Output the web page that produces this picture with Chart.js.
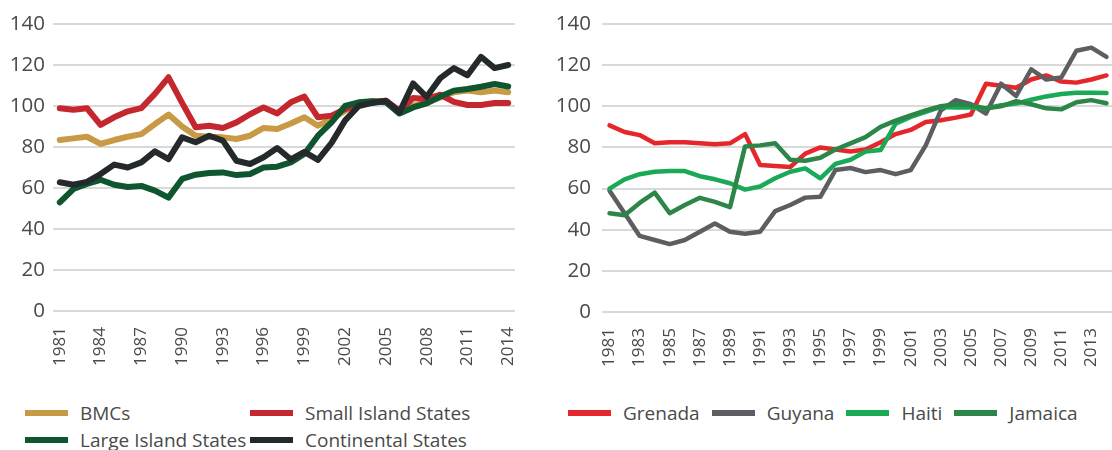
<!DOCTYPE html>
<html>
<head>
<meta charset="utf-8">
<title>Real effective exchange rates</title>
<script src="https://cdn.jsdelivr.net/npm/chart.js@4.4.0/dist/chart.umd.min.js"></script>
<style>
html, body { margin: 0; padding: 0; background: #fff; }
body { position: relative; width: 1112px; height: 450px; overflow: hidden; font-family: 'Open Sans', sans-serif; }
canvas { position: absolute; top: 0; display: block; }
#chartLeft { left: 0; }
#chartRight { left: 556px; }
.legend { position: absolute; color: #4a4a4a; font-size: 19px; }
#legendLeft { left: 25px; top: 399px; display: grid; grid-template-columns: 225px auto; grid-auto-rows: 27px; }
#legendRight { left: 568px; top: 399px; display: flex; gap: 12px; height: 27px; }
.item { display: flex; align-items: center; white-space: nowrap; }
.swatch { width: 43px; height: 6px; margin-right: 12px; }
</style>
</head>
<body>
<canvas id="chartLeft" width="518" height="380"></canvas>
<canvas id="chartRight" width="560" height="380"></canvas>
<div class="legend" id="legendLeft"></div>
<div class="legend" id="legendRight"></div>

<script>
const years = ['1981', '1982', '1983', '1984', '1985', '1986', '1987', '1988', '1989', '1990',
    '1991', '1992', '1993', '1994', '1995', '1996', '1997', '1998', '1999', '2000',
    '2001', '2002', '2003', '2004', '2005', '2006', '2007', '2008', '2009', '2010',
    '2011', '2012', '2013', '2014'];

const yTicks = [0, 20, 40, 60, 80, 100, 120, 140];

// groups of countries
const bmcs = [83.4, 84.2, 85, 81.5, 83.4, 85, 86.3, 91.2, 95.8, 90, 85.5, 85, 84.7, 83.9, 85.5, 89.3, 88.8,
    91.5, 94.5, 90.4, 93.7, 97.7, 101.3, 102.3, 102.3, 96.9, 100.2, 101.8, 104.2, 106.7, 107.5, 106.7, 107.5, 106.7];
const smallIsland = [98.9, 98.2, 98.9, 90.8, 94.5, 97.4, 99, 105.9, 114, 101.5, 89.6, 90.4, 89.3, 92, 96, 99.3, 96.4,
    101.8, 104.6, 94.5, 95.3, 98.5, 101, 101.8, 102.6, 97.7, 103.9, 103.4, 105.5, 102, 100.5, 100.5, 101.5, 101.5];
const largeIsland = [53, 59.5, 62, 64, 61.6, 60.5, 61, 58.7, 55.3, 64.4, 66.5, 67.3, 67.6, 66.3, 66.8, 70, 70.4,
    72.5, 76.6, 85.5, 92, 100, 101.8, 102.3, 101.8, 96.3, 99.3, 101.3, 104.6, 107.5, 108.3, 109.4, 110.7, 109.5];
const continental = [62.8, 61.6, 63, 66.8, 71.4, 70, 72.5, 77.9, 74.1, 84.7, 82.3, 85.5, 83.1, 73.3, 71.7, 75, 79.5,
    74, 77.6, 73.7, 82, 93, 100, 101.5, 102.6, 97, 111, 104.5, 113.6, 118.5, 115, 124, 118.5, 120];

// single countries
const grenada = [90.7, 87.5, 86, 82, 82.5, 82.5, 82, 81.5, 82, 86.5, 71.5, 71, 70.5, 77, 80, 79, 78,
    79, 82.5, 86.5, 88.5, 92.4, 93.2, 94.5, 96, 111, 110, 109, 113, 115, 112, 111.5, 113, 115];
const guyana = [59, 48, 37, 35, 33, 35, 39, 43, 39, 38, 39, 49, 52, 55.6, 56, 69, 70,
    68, 69, 67, 69, 81, 98, 103, 101, 96.5, 111, 105, 118, 113, 114, 127, 128.5, 124];
const haiti = [60, 64.5, 67, 68.2, 68.5, 68.5, 66, 64.5, 62.6, 59.5, 61, 65, 68.2, 69.8, 65, 72, 74,
    78, 78.7, 91.6, 94.8, 97.3, 99.7, 99.4, 99.4, 98.9, 100.5, 101.3, 103.2, 104.8, 106, 106.6, 106.6, 106.4];
const jamaica = [48, 47, 53, 58, 48, 52, 55.5, 53.5, 51, 80.5, 81, 82, 74, 73.5, 75, 79, 82,
    85, 90, 93, 95.6, 98, 100, 101, 100.5, 99, 100, 102.5, 101, 99, 98.5, 102, 103, 101.5];

Chart.defaults.font.family = "'Open Sans', sans-serif";
Chart.defaults.color = '#4a4a4a';

function makeSeries(label, data, color, width, i, n) {
    return {
        label: label,
        data: data,
        borderColor: color,
        backgroundColor: color,
        borderWidth: width,
        borderJoinStyle: 'round',
        borderCapStyle: 'round',
        pointRadius: 0,
        tension: 0,
        order: n - i  // later series on top
    };
}

function drawChart(canvasId, datasets, opts) {
    return new Chart(document.getElementById(canvasId), {
        type: 'line',
        data: { labels: years, datasets: datasets },
        options: {
            responsive: false,
            animation: false,
            layout: { padding: { top: 24, right: opts.padRight, left: 0, bottom: 0 } },
            plugins: { legend: { display: false }, tooltip: { enabled: false } },
            scales: {
                x: {
                    offset: true,
                    grid: { display: false, drawTicks: false },
                    border: { display: false },
                    ticks: {
                        autoSkip: false,
                        minRotation: 90,
                        maxRotation: 90,
                        padding: 16,
                        font: { size: 17 },
                        callback: function(val, idx) {
                            return idx % opts.every === 0 ? years[idx] : null;
                        }
                    },
                    afterFit: function(scale) {
                        scale.height = opts.xHeight;
                        // rotated labels need no side room
                        scale.paddingLeft = 0;
                        scale.paddingRight = 0;
                    }
                },
                y: {
                    min: 0,
                    max: 140,
                    afterBuildTicks: function(scale) {
                        scale.ticks = yTicks.map(v => ({ value: v }));
                    },
                    grid: { color: '#d9d9d9', lineWidth: 2, drawTicks: false },
                    border: { display: false },
                    ticks: { padding: opts.yPad, font: { size: 20.5 } },
                    afterFit: function(scale) { scale.width = opts.yWidth; }
                }
            }
        }
    });
}

function buildLegend(boxId, datasets) {
    const box = document.getElementById(boxId);
    datasets.forEach(function(ds) {
        const item = document.createElement('div');
        item.className = 'item';
        const sw = document.createElement('span');
        sw.className = 'swatch';
        sw.style.background = ds.borderColor;
        const txt = document.createElement('span');
        txt.textContent = ds.label;
        item.appendChild(sw);
        item.appendChild(txt);
        box.appendChild(item);
    });
}

document.addEventListener('DOMContentLoaded', function() {
    const groups = [
        ['BMCs', bmcs, '#c99a45'],
        ['Small Island States', smallIsland, '#c4272d'],
        ['Large Island States', largeIsland, '#0f5530'],
        ['Continental States', continental, '#24292b']
    ].map((s, i, a) => makeSeries(s[0], s[1], s[2], 6, i, a.length));

    const countries = [
        ['Grenada', grenada, '#e5262b'],
        ['Guyana', guyana, '#5d5e62'],
        ['Haiti', haiti, '#19a957'],
        ['Jamaica', jamaica, '#2b8648']
    ].map((s, i, a) => makeSeries(s[0], s[1], s[2], 4.5, i, a.length));

    drawChart('chartLeft', groups, { every: 3, xHeight: 69, yWidth: 53, yPad: 8, padRight: 3 });
    drawChart('chartRight', countries, { every: 2, xHeight: 68, yWidth: 46, yPad: 11, padRight: 2 });

    buildLegend('legendLeft', groups);
    buildLegend('legendRight', countries);
});
</script>
</body>
</html>
